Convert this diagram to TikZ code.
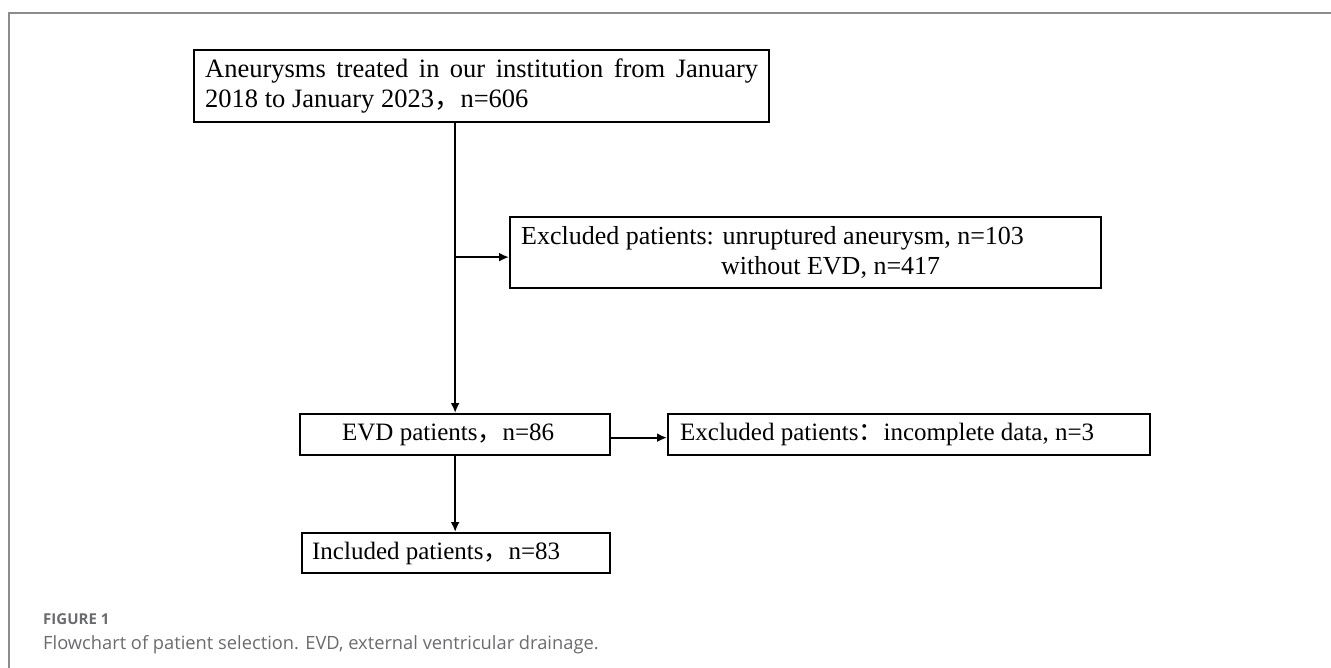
\documentclass[tikz,border=0pt]{standalone}
\usepackage{fontspec}
\setmainfont{Liberation Serif}
\newfontfamily\cjk{Noto Sans CJK SC}
\newfontfamily\capfont{Open Sans}
\usetikzlibrary{arrows.meta}
\definecolor{capgray}{HTML}{6A6B6E}
\definecolor{framegray}{HTML}{8C8C8C}
\newcommand{\fwc}{{\cjk ，}}
\newcommand{\fwcolon}{{\cjk ：}}
\newcommand{\lline}[2]{\makebox[#1][l]{#2}}
\newcommand{\jline}[2]{\makebox[#1][s]{#2}}
\begin{document}
\begin{tikzpicture}[x=1pt,y=-1pt,
  box/.style={draw=black, line width=2.3pt, rectangle, inner ysep=0pt, anchor=north west, align=left},
  conn/.style={line width=2.3pt, -{Latex[length=10pt,width=9pt]}},
  frameline/.style={draw=framegray, line width=1.5pt}
]
\useasboundingbox (0,0) rectangle (1331,668);
% frame
\coordinate (ftr) at (1331,13);
\coordinate (ftl) at (9,13);
\coordinate (fbl) at (9,668);
\draw[frameline] (ftr) -- (ftl) -- (fbl);
% boxes
\node[box, minimum height=72pt, inner xsep=11pt,
      font=\fontsize{26.5}{30}\selectfont] (b1) at (193,49)
  {\jline{553pt}{Aneurysms treated in our institution from January}\\\lline{553pt}{2018 to January 2023\fwc n=606}};
\node[box, minimum height=71pt, inner xsep=11pt,
      font=\fontsize{26}{30}\selectfont] (b2) at (509,216)
  {\lline{569pt}{Excluded patients: unruptured aneurysm, n=103}\\\lline{569pt}{\hspace*{200pt}without EVD, n=417}};
\node[box, minimum height=41pt, inner xsep=42pt,
      font=\fontsize{25}{28}\selectfont] (evd) at (299,413)
  {\lline{226pt}{EVD patients\fwc n=86}};
\node[box, minimum height=41pt, inner xsep=12pt,
      font=\fontsize{25}{28}\selectfont] (exc) at (667,413)
  {\lline{458pt}{Excluded patients\fwcolon incomplete data, n=3}};
\node[box, minimum height=40pt, inner xsep=10pt,
      font=\fontsize{25}{28}\selectfont] (inc) at (301,532)
  {\lline{288pt}{Included patients\fwc n=83}};
% connectors
\coordinate (b2in) at ([yshift=-4.5pt]b2.west);
\coordinate (j1) at (evd.north |- b2in);
\coordinate (evdout) at ([yshift=-3pt]evd.east);
\draw[conn] (b1.south -| evd.north) -- (evd.north);
\draw[conn] (j1) -- (b2in);
\draw[conn] (evdout) -- (evdout -| exc.west);
\draw[conn] (evd.south) -- (evd.south |- inc.north);
% caption
\node[anchor=west, inner sep=0pt, text=capgray, font=\capfont\bfseries\fontsize{15}{17}\selectfont] (fig) at (43,619) {FIGURE 1};
\node[anchor=west, inner sep=0pt, text=capgray, font=\capfont\fontsize{18.3}{21}\selectfont] (cap) at (43,645) {Flowchart of patient selection. EVD, external ventricular drainage.};
\end{tikzpicture}
\end{document}
